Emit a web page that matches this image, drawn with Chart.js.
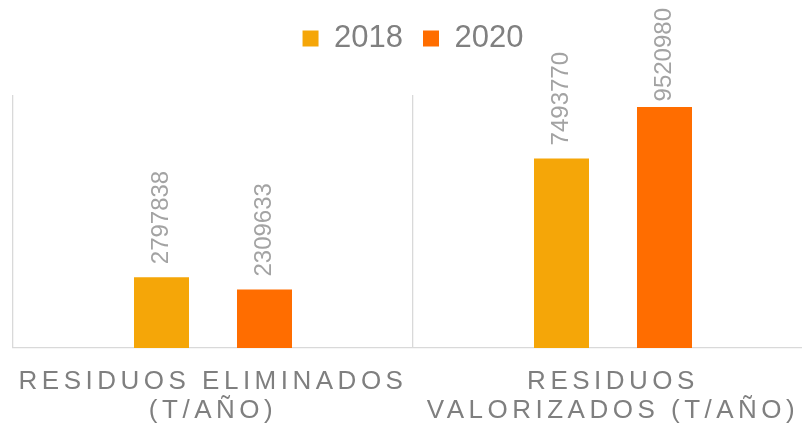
<!DOCTYPE html>
<html lang="es">
<head>
  <meta charset="UTF-8" />
  <title>Residuos</title>
  <script src="https://cdn.jsdelivr.net/npm/chart.js"></script>
  <style>
    html, body { margin: 0; padding: 0; background: #fff; overflow: hidden; }
    #wrap { width: 802px; height: 431px; overflow: hidden; }
  </style>
</head>
<body>
  <div id="wrap"><canvas id="chart" width="814" height="431"></canvas></div>

  <script>
    const categories = [
      ["RESIDUOS ELIMINADOS", "(T/AÑO)"],
      ["RESIDUOS", "VALORIZADOS (T/AÑO)"]
    ];
    const years = ["2018", "2020"];
    const values2018 = [2797838, 7493770];
    const values2020 = [2309633, 9520980];
    const colors = ["#F5A608", "#FF6D00"];

    // only the x labels get spaced letters
    const spacing = {
      id: "spacing",
      beforeDraw(chart) {
        const sx = chart.scales.x;
        if (sx && !sx._spaced) {
          const orig = sx.drawLabels.bind(sx);
          sx.drawLabels = function (area) {
            const ctx = chart.ctx;
            const prev = ctx.letterSpacing;
            ctx.letterSpacing = "4.5px";
            orig(area);
            ctx.letterSpacing = prev;
          };
          sx._spaced = true;
        }
      }
    };

    // rotated value labels above bars
    const valueLabels = {
      id: "valueLabels",
      afterDatasetsDraw(chart) {
        const ctx = chart.ctx;
        ctx.save();
        ctx.font = "24px 'Liberation Sans', Arial, sans-serif";
        ctx.fillStyle = "#a3a3a3";
        ctx.textAlign = "left";
        ctx.textBaseline = "middle";
        chart.data.datasets.forEach((ds, i) => {
          chart.getDatasetMeta(i).data.forEach((bar, j) => {
            const txt = String(ds.data[j]);
            const w = ctx.measureText(txt).width;
            let start = bar.y - 13;
            if (start - w < 8) start = 8 + w;
            ctx.save();
            ctx.translate(bar.x, start);
            ctx.rotate(-Math.PI / 2);
            ctx.fillText(txt, 0, 0);
            ctx.restore();
          });
        });
        ctx.restore();
      }
    };

    new Chart(document.getElementById("chart"), {
      type: "bar",
      data: {
        labels: categories,
        datasets: [
          { label: years[0], data: values2018, backgroundColor: colors[0] },
          { label: years[1], data: values2020, backgroundColor: colors[1] }
        ]
      },
      options: {
        responsive: false,
        animation: false,
        categoryPercentage: 0.515,
        barPercentage: 0.534,
        layout: { padding: { left: 13, right: 1, top: 3, bottom: 0 } },
        plugins: {
          legend: {
            position: "top",
            labels: {
              boxWidth: 16, boxHeight: 16, padding: 20,
              color: "#808080",
              font: { family: "'Liberation Sans', Arial, sans-serif", size: 31 }
            }
          },
          title: {
            display: true, text: "", weight: 500,
            padding: { top: 10, bottom: 11 },
            font: { size: 10, lineHeight: 1 }
          },
          tooltip: { enabled: false }
        },
        scales: {
          x: {
            grid: { color: "#d9d9d9", lineWidth: 1.3, drawTicks: false },
            border: { color: "#d9d9d9", width: 1.3 },
            ticks: {
              color: "#7f7f7f", padding: 20, maxRotation: 0, autoSkip: false,
              font: { family: "'Liberation Sans', Arial, sans-serif", size: 26, lineHeight: 1.1 }
            },
            afterFit(scale) { scale.height = 83; }
          },
          y: { display: false, min: 0, max: 10000000 }
        }
      },
      plugins: [spacing, valueLabels]
    });
  </script>
</body>
</html>
